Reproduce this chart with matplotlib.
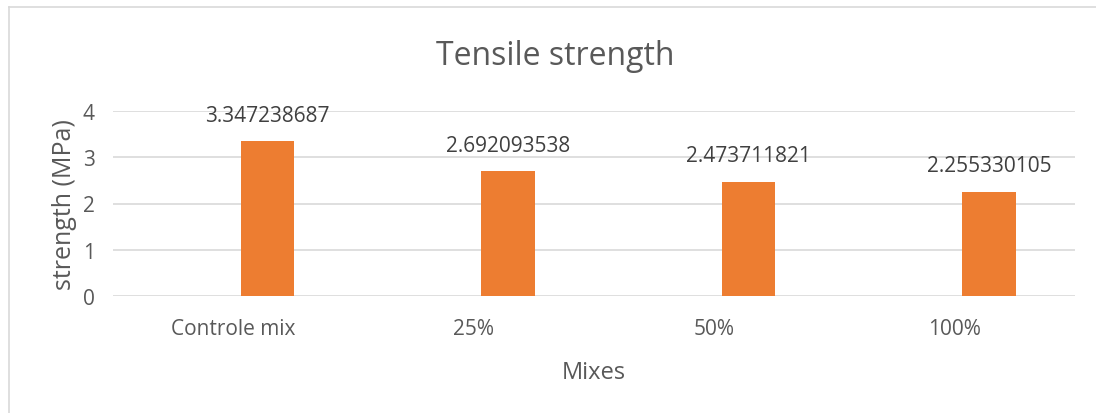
import matplotlib.pyplot as plt
from matplotlib.lines import Line2D

# data
mixes = ['Controle mix', '25%', '50%', '100%']
strength = [3.347238687, 2.692093538, 2.473711821, 2.255330105]
value_labels = ['3.347238687', '2.692093538', '2.473711821', '2.255330105']

plt.rcParams['font.family'] = ['Open Sans', 'DejaVu Sans']
grey = '#595959'
orange = '#ED7D31'

fig = plt.figure(figsize=(10.96, 4.14), dpi=100)
ax = fig.add_axes([113 / 1096, 1 - 297 / 414, (1075 - 113) / 1096, (297 - 112) / 414])

x = list(range(len(mixes)))
# bars sit right of the category centre, like an excel cluster with an empty first series
bx = [i + 0.143 for i in x]
bars = ax.bar(bx, strength, width=0.222, color=orange, zorder=3)

for b, lab in zip(bars, value_labels):
    ax.text(b.get_x() + b.get_width() / 2, b.get_height() + 0.33, lab,
            ha='center', va='bottom', fontsize=15, color='#404040')

ax.set_xlim(-0.5, len(mixes) - 0.5)
ax.set_ylim(0, 4)
ax.set_yticks([0, 1, 2, 3, 4])
ax.set_xticks(x)
ax.set_xticklabels(mixes)
ax.yaxis.grid(True, color='#D9D9D9', linewidth=1.2, zorder=0)
ax.tick_params(axis='both', length=0, labelsize=15, colors=grey)
ax.tick_params(axis='x', pad=16)
ax.tick_params(axis='y', pad=13)
for s in ax.spines.values():
    s.set_visible(False)
ax.set_axisbelow(True)

ax.set_xlabel('Mixes', fontsize=17, color=grey, labelpad=15)
ax.set_ylabel('strength (MPa)', fontsize=18, color=grey, labelpad=4)
fig.text(555 / 1096, 1 - 57 / 414, 'Tensile strength', ha='center', va='center',
         fontsize=23, color=grey)

# chart border
fig.add_artist(Line2D([9 / 1096, 9 / 1096], [0, 1 - 8 / 414], color='#D9D9D9', linewidth=1.2))
fig.add_artist(Line2D([9 / 1096, 1], [1 - 8 / 414, 1 - 8 / 414], color='#D9D9D9', linewidth=1.2))

fig.savefig('out.png', dpi=100)
